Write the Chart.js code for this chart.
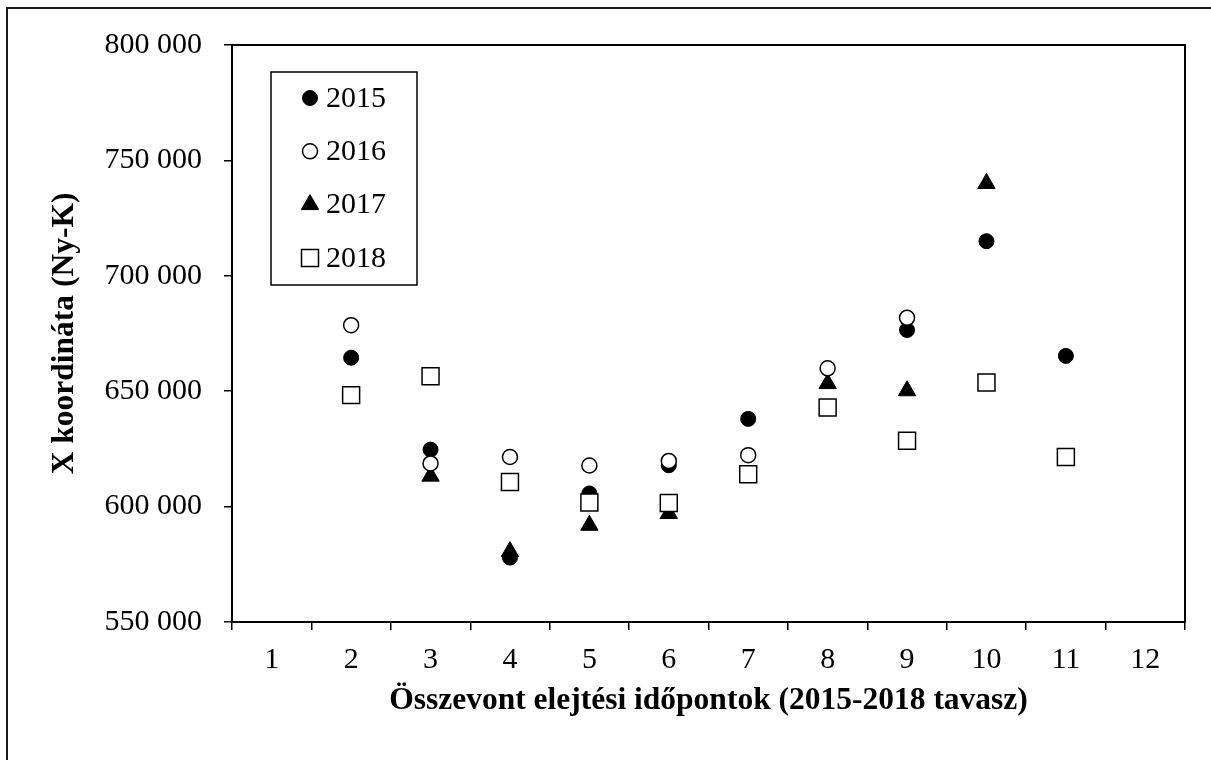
<!DOCTYPE html>
<html>
<head>
<meta charset="utf-8">
<script src="https://cdn.jsdelivr.net/npm/chart.js@4/dist/chart.umd.min.js"></script>
<style>
  html, body { margin: 0; padding: 0; background: #fff; overflow: hidden; }
  #wrap { position: relative; width: 1211px; height: 760px; }
  #frame { position: absolute; left: 6px; top: 7px; width: 1300px; height: 900px; border: 2px solid #1a1a1a; box-sizing: border-box; pointer-events: none; }
  canvas { position: absolute; left: 0; top: 0; }
</style>
</head>
<body>
<div id="wrap">
  <div id="frame"></div>
  <canvas id="myChart" width="1211" height="760"></canvas>
</div>
<script>
const categories = ['1', '2', '3', '4', '5', '6', '7', '8', '9', '10', '11', '12'];
const yTicks = [550000, 600000, 650000, 700000, 750000, 800000];

const seriesNames = ['2015', '2016', '2017', '2018'];
const y2015 = [null, 664500, 624700, 577900, 605700, 617900, 638000, null, 676500, 715000, 665300, null];
const y2016 = [null, 678600, 618700, 621500, 617800, 619800, 622300, 659900, 681800, null, null, null];
const y2017 = [null, null, 613200, 580500, 591900, 597000, null, 653300, 650200, 740000, null, null];
const y2018 = [null, 648300, 656500, 610700, 601800, 601600, 614000, 642900, 628500, 653800, 621500, null];

const serif = "'Liberation Serif', 'Times New Roman', serif";
const fmt = v => String(v).replace(/\B(?=(\d{3})+(?!\d))/g, ' ');

// marker styles per series (order: lower = drawn on top)
const markers = [
  { pointStyle: 'circle', radius: 7.5, backgroundColor: '#000', borderColor: '#000', borderWidth: 1, order: 3 },
  { pointStyle: 'circle', radius: 7.5, backgroundColor: '#fff', borderColor: '#000', borderWidth: 1.5, order: 1 },
  { pointStyle: 'triangle', radius: 10, backgroundColor: '#000', borderColor: '#000', borderWidth: 1, order: 2 },
  { pointStyle: 'rect', radius: 12, backgroundColor: '#fff', borderColor: '#000', borderWidth: 1.5, order: 0 }
];
const values = [y2015, y2016, y2017, y2018];

const datasets = seriesNames.map((name, i) => ({
  label: name,
  data: values[i],
  showLine: false,
  order: markers[i].order,
  pointStyle: markers[i].pointStyle,
  pointRadius: markers[i].radius,
  pointHoverRadius: markers[i].radius,
  pointBackgroundColor: markers[i].backgroundColor,
  pointBorderColor: markers[i].borderColor,
  pointBorderWidth: markers[i].borderWidth,
  backgroundColor: markers[i].backgroundColor,
  borderColor: markers[i].borderColor
}));

// box around plot area + legend inside
const framePlugin = {
  id: 'framePlugin',
  beforeDatasetsDraw(chart) {
    const { ctx, chartArea: a } = chart;
    ctx.save();
    ctx.strokeStyle = '#000';
    ctx.lineWidth = 2;
    ctx.strokeRect(a.left, a.top, a.right - a.left, a.bottom - a.top);
    ctx.restore();
  },
  afterDatasetsDraw(chart) {
    const { ctx, chartArea: a } = chart;
    const bx = a.left + 39, by = a.top + 27, bw = 146, bh = 213;
    ctx.save();
    ctx.fillStyle = '#fff';
    ctx.fillRect(bx, by, bw, bh);
    ctx.strokeStyle = '#000';
    ctx.lineWidth = 1.5;
    ctx.strokeRect(bx, by, bw, bh);
    ctx.font = '30px ' + serif;
    ctx.textBaseline = 'middle';
    ctx.textAlign = 'left';
    seriesNames.forEach((name, i) => {
      const y = by + 26 + i * 53.3;
      const m = markers[i];
      ctx.fillStyle = m.backgroundColor;
      ctx.strokeStyle = m.borderColor;
      ctx.lineWidth = m.borderWidth;
      Chart.helpers.drawPoint(ctx, { pointStyle: m.pointStyle, radius: m.radius, rotation: 0, borderWidth: m.borderWidth }, bx + 39, y);
      ctx.fillStyle = '#000';
      ctx.fillText(name, bx + 55, y + 1);
    });
    ctx.restore();
  }
};

const ctx = document.getElementById('myChart').getContext('2d');
const myChart = new Chart(ctx, {
  type: 'line',
  data: { labels: categories, datasets: datasets },
  plugins: [framePlugin],
  options: {
    responsive: false,
    animation: false,
    layout: { padding: { left: 40, top: 45, right: 26, bottom: 30 } },
    scales: {
      x: {
        type: 'category',
        offset: true,
        grid: { offset: true, drawOnChartArea: false, tickLength: 8, color: '#000', lineWidth: 1.5 },
        border: { display: true, color: '#000', width: 2 },
        ticks: { color: '#000', padding: 12, font: { family: serif, size: 30 }, maxRotation: 0, autoSkip: false },
        title: { display: true, text: 'Összevont elejtési időpontok (2015-2018 tavasz)', color: '#000',
          font: { family: serif, size: 31.5, weight: 'bold' }, padding: { top: 0, bottom: 10 } },
        afterFit(scale) { scale.height = 108; }
      },
      y: {
        min: yTicks[0],
        max: yTicks[yTicks.length - 1],
        afterBuildTicks(scale) { scale.ticks = yTicks.map(v => ({ value: v })); },
        grid: { drawOnChartArea: false, tickLength: 8, color: '#000', lineWidth: 1.5 },
        border: { display: true, color: '#000', width: 2 },
        ticks: { color: '#000', padding: 22, font: { family: serif, size: 30 }, callback: v => fmt(v) },
        title: { display: true, text: 'X koordináta (Ny-K)', color: '#000',
          font: { family: serif, size: 31.5, weight: 'bold' }, padding: { top: 5.5, bottom: 0 } },
        afterFit(scale) { scale.width = 192; }
      }
    },
    plugins: {
      legend: { display: false },
      tooltip: { enabled: false }
    }
  }
});
</script>
</body>
</html>
